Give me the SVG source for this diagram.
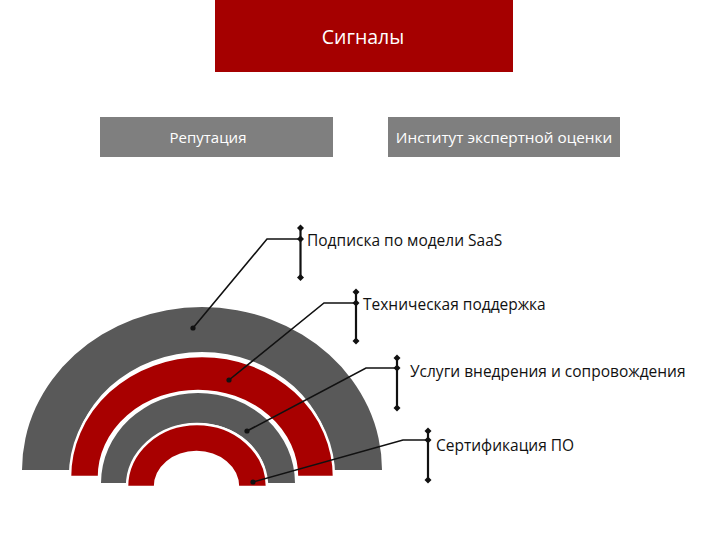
<svg xmlns="http://www.w3.org/2000/svg" width="720" height="540" viewBox="0 0 720 540">
<style>
.lbl{font-family:"Open Sans","Noto Sans","DejaVu Sans",sans-serif;font-size:15.5px;fill:#111}
.wt{font-family:"Open Sans","Noto Sans","DejaVu Sans",sans-serif;fill:#fff;text-anchor:middle}
.gray{fill:#595959}
.red{fill:#A80000;stroke:#fff;stroke-width:2.5}
.bar{stroke:#111;stroke-width:2.2;fill:none}
.lead{stroke:#111;stroke-width:1.6;fill:none}
</style>
<defs>
<path id="dm" d="M0,-3.5 L3.5,0 L0,3.5 L-3.5,0 Z" fill="#111"/>
<circle id="dt" r="2.6" fill="#111"/>
</defs>
<rect width="720" height="540" fill="#fff"/>
<g id="signals"><rect x="215" y="0" width="298" height="72" fill="#A50000"/><text class="wt" x="363" y="44" font-size="19.5">Сигналы</text></g>
<g id="reputation"><rect x="100" y="117" width="233" height="40" fill="#7F7F7F"/><text class="wt" x="208" y="143" font-size="15">Репутация</text></g>
<g id="expert"><rect x="388" y="117" width="232" height="40" fill="#7F7F7F"/><text class="wt" x="504" y="143" font-size="15.3">Институт экспертной оценки</text></g>
<g id="arcs">
<path id="ring1" class="gray" d="M22,470 A180,163 0 0 1 382,470 L332,470 A130,118 0 0 0 72,470 Z"/>
<path id="ring2" class="red" d="M70,477 A132,121 0 0 1 334,477 L297,477 A99,86 0 0 0 99,477 Z"/>
<path id="ring3" class="gray" d="M101,483 A97,90 0 0 1 295,483 L267,483 A69,60 0 0 0 129,483 Z"/>
<path id="ring4" class="red" d="M127,487 A70,63 0 0 1 267,487 L238,487 A41.5,35 0 0 0 155,487 Z"/>
</g>
<g id="connectors">
<line class="bar" x1="300.5" y1="228" x2="300.5" y2="277.5"/>
<polyline class="lead" points="300.5,239 267,239 193,328"/>
<use href="#dm" x="300.5" y="228"/><use href="#dm" x="300.5" y="277.5"/><use href="#dm" x="300.5" y="239"/><use href="#dt" x="193" y="328"/>
<line class="bar" x1="356" y1="292" x2="356" y2="341"/>
<polyline class="lead" points="356,303 324,303 229,380"/>
<use href="#dm" x="356" y="292"/><use href="#dm" x="356" y="341"/><use href="#dm" x="356" y="303"/><use href="#dt" x="229" y="380"/>
<line class="bar" x1="397" y1="358" x2="397" y2="408"/>
<polyline class="lead" points="397,368 366,368 247,431"/>
<use href="#dm" x="397" y="358"/><use href="#dm" x="397" y="408"/><use href="#dm" x="397" y="368"/><use href="#dt" x="247" y="431"/>
<line class="bar" x1="428" y1="431" x2="428" y2="480"/>
<polyline class="lead" points="428,440 403,440 253,482"/>
<use href="#dm" x="428" y="431"/><use href="#dm" x="428" y="480"/><use href="#dm" x="428" y="440"/><use href="#dt" x="253" y="482"/>
</g>
<g id="labels">
<text class="lbl" x="307" y="245.5">Подписка по модели SaaS</text>
<text class="lbl" x="363" y="310">Техническая поддержка</text>
<text class="lbl" x="410" y="377">Услуги внедрения и сопровождения</text>
<text class="lbl" x="436" y="451">Сертификация ПО</text>
</g>
</svg>
